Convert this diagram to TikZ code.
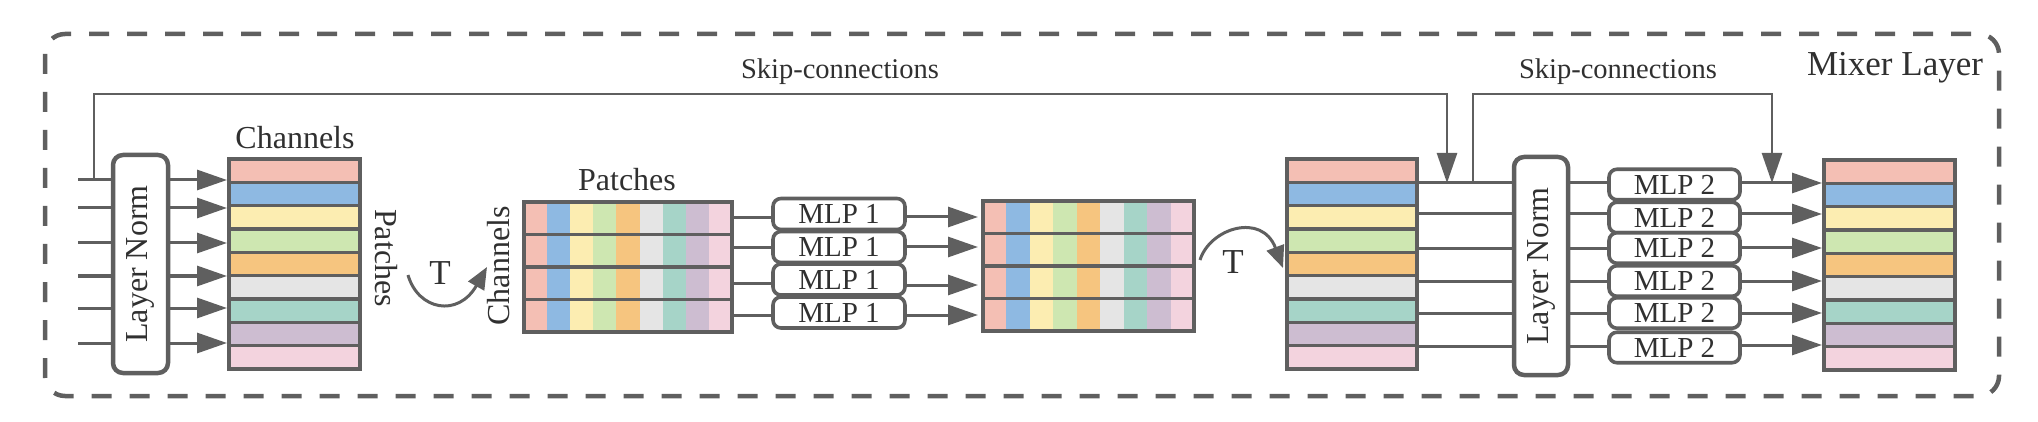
\documentclass[tikz,border=0pt]{standalone}
\usepackage{fontspec}
\setmainfont{Liberation Serif}
\usetikzlibrary{arrows.meta}
\definecolor{lg}{HTML}{5F5F5F}
\definecolor{tx}{HTML}{303030}
\definecolor{c1}{HTML}{F4BFB4}
\definecolor{c2}{HTML}{8EB9E2}
\definecolor{c3}{HTML}{FCEDB1}
\definecolor{c4}{HTML}{CEE7B1}
\definecolor{c5}{HTML}{F6C57F}
\definecolor{c6}{HTML}{E5E5E5}
\definecolor{c7}{HTML}{A6D4C8}
\definecolor{c8}{HTML}{CDBDD1}
\definecolor{c9}{HTML}{F3D3DE}
\begin{document}
\begin{tikzpicture}[x=1pt,y=-1pt,
  conn/.style={draw=lg, line width=3pt},
  arr/.style={conn, -{Triangle[length=30pt,width=20pt]}},
  skipline/.style={draw=lg, line width=2.6pt},
  skiparr/.style={skipline, -{Triangle[length=30pt,width=20pt]}},
  tarr/.style={draw=lg, line width=3pt, -{Triangle[length=22pt,width=18pt]}},
  lnbox/.style={draw=lg, line width=4.5pt, rounded corners=10pt, fill=white,
    inner sep=0pt, outer sep=0pt, text=tx, minimum width=55pt, minimum height=218pt},
  mlpbox/.style={draw=lg, line width=3.6pt, rounded corners=8pt, fill=white,
    inner sep=0pt, outer sep=0pt, text=tx, minimum height=31pt,
    font=\fontsize{29}{30}\selectfont},
  srow/.style={draw=lg, line width=3.6pt, inner sep=0pt, outer sep=2pt,
    minimum height=23.33pt},
  gridrow/.style={draw=lg, line width=3.6pt, inner sep=0pt, outer sep=2pt,
    minimum height=32.5pt},
  lbl/.style={text=tx, inner sep=0pt, font=\fontsize{32}{34}\selectfont},
  skiplbl/.style={text=tx, inner sep=0pt, font=\fontsize{28.5}{30}\selectfont},
  outerframe/.style={draw=lg, line width=4.5pt, rounded corners=20pt,
    dash pattern=on 20pt off 18pt}
]
\useasboundingbox (0,0) rectangle (2038,422);

% outer dashed frame
\draw[outerframe] (45,34) rectangle (1999,396);
\node[text=tx, inner sep=0pt, font=\fontsize{35}{36}\selectfont] (mixer) at (1895,68) {Mixer Layer};

% ---------- stack 1 ----------
\foreach \c [count=\i] in {c1,c2,c3,c4,c5,c6,c7,c8,c9}
  \node[srow, fill=\c, minimum width=131pt] (sa\i) at (294.5,{159+(\i-0.5)*23.33}) {};
\node[lbl] (chan1) at (295,138) {Channels};
\node[lbl, rotate=-90] (pat1) at (386,258) {Patches};

% Layer Norm 1
\node[lnbox] (ln1) at (140.5,264) {\rotatebox{90}{\fontsize{32}{34}\selectfont Layer Norm}};

% input lines
\foreach \y [count=\k] in {180,208,243,276,308,343} {
  \coordinate (in\k) at (78,\y);
  \draw[conn] (in\k) -- (in\k -| ln1.west);
  \draw[arr] (in\k -| ln1.east) -- (in\k -| sa1.west);
}

% T arrow 1
\coordinate (ta1) at (408,275);
\coordinate (tb1) at (487,267);
\draw[tarr] (ta1) .. controls (418,310) and (458,318) .. (tb1);
\node[text=tx, inner sep=0pt, font=\fontsize{35}{36}\selectfont] (t1) at (440,273) {T};

% ---------- grid 1 ----------
\foreach \c [count=\i from 0] in {c1,c2,c3,c4,c5,c6,c7,c8,c9}
  \fill[\c] ({524+\i*23.11},202) rectangle ++(23.11,130);
\foreach \i in {1,...,4}
  \node[gridrow, minimum width=208pt] (ga\i) at (628,{202+(\i-0.5)*32.5}) {};
\node[lbl] (pat2) at (627,180) {Patches};
\node[lbl, rotate=90] (chan2) at (499,266) {Channels};

% MLP 1
\foreach \y [count=\i] in {214,247,279.5,312.5}
  \node[mlpbox, minimum width=132pt] (ma\i) at (839,\y) {MLP 1};

\foreach \y [count=\k] in {218,248,283,315} {
  \coordinate (ga\k l) at (732,\y);
  \draw[conn] (ga\k l -| ga1.east) -- (ga\k l -| ma1.west);
}

% ---------- grid 2 ----------
\foreach \c [count=\i from 0] in {c1,c2,c3,c4,c5,c6,c7,c8,c9}
  \fill[\c] ({983+\i*23.44},201) rectangle ++(23.44,130);
\foreach \i in {1,...,4}
  \node[gridrow, minimum width=211pt] (gb\i) at (1088.5,{201+(\i-0.5)*32.5}) {};

\foreach \y [count=\k] in {217,247,285,315} {
  \coordinate (mb\k l) at (905,\y);
  \draw[arr, shorten >=3pt] (mb\k l -| ma1.east) -- (mb\k l -| gb1.west);
}

% T arrow 2
\coordinate (ta2) at (1200,260);
\coordinate (tb2) at (1283,268);
\draw[tarr] (ta2) .. controls (1210,228) and (1262,212) .. (tb2);
\node[text=tx, inner sep=0pt, font=\fontsize{35}{36}\selectfont] (t2) at (1233,262) {T};

% ---------- stack 3 ----------
\foreach \c [count=\i] in {c1,c2,c3,c4,c5,c6,c7,c8,c9}
  \node[srow, fill=\c, minimum width=130pt] (sc\i) at (1352,{159+(\i-0.5)*23.33}) {};

% Layer Norm 2
\node[lnbox, minimum width=54pt] (ln2) at (1541,266) {\rotatebox{90}{\fontsize{32}{34}\selectfont Layer Norm}};

% MLP 2
\foreach \y [count=\i] in {184.5,217.5,248,281,313,347.5}
  \node[mlpbox, minimum width=131pt, minimum height=30.5pt] (mc\i) at (1674.5,\y) {MLP 2};

\foreach \y [count=\k] in {183,214,249,281,313,346} {
  \coordinate (sc\k l) at (1417,\y);
  \draw[conn] (sc\k l -| sc1.east) -- (sc\k l -| ln2.west);
  \draw[conn] (sc\k l -| ln2.east) -- (sc\k l -| mc1.west);
}

% ---------- stack 4 ----------
\foreach \c [count=\i] in {c1,c2,c3,c4,c5,c6,c7,c8,c9}
  \node[srow, fill=\c, minimum width=131pt] (sd\i) at (1889.5,{160+(\i-0.5)*23.33}) {};

\foreach \y [count=\k] in {183,214,248,281,313,345} {
  \coordinate (md\k l) at (1740,\y);
  \draw[arr] (md\k l -| mc1.east) -- (md\k l -| sd1.west);
}

% ---------- skip connections ----------
\coordinate (s1a) at (94,180);
\coordinate (s1b) at (1447,183);
\draw[skiparr] (s1a) -- (94,94) -- (1447,94) -- (s1b);
\node[skiplbl] (skl1) at (840,72) {Skip-connections};

\coordinate (s2a) at (1473,183);
\coordinate (s2b) at (1772,183);
\draw[skiparr] (s2a) -- (1473,94) -- (1772,94) -- (s2b);
\node[skiplbl] (skl2) at (1618,72) {Skip-connections};

\end{tikzpicture}
\end{document}
